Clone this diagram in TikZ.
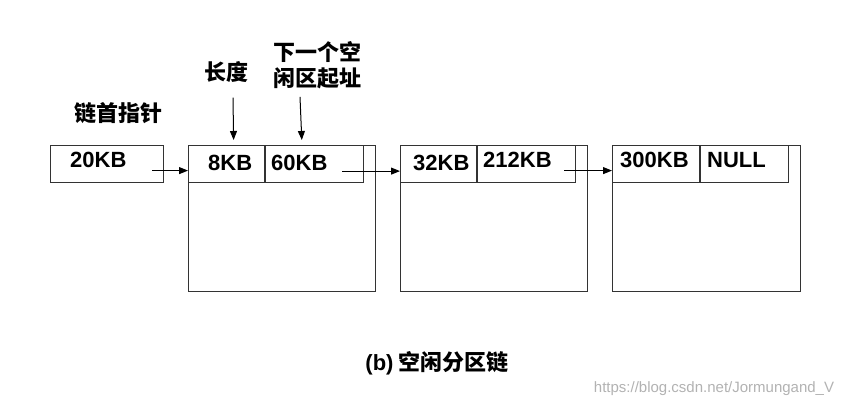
\documentclass[tikz,border=0pt]{standalone}
\usepackage{fontspec}
\setmainfont{Liberation Sans}
\newfontfamily\cjk{Noto Sans CJK SC}
\usetikzlibrary{arrows.meta}

\tikzset{
  cell/.style={draw=black!80,line width=1.2pt,anchor=north west,inner sep=0,minimum height=37},
  val/.style={anchor=base west,inner sep=0,font=\bfseries\fontsize{22}{26}\selectfont},
  lbl/.style={inner sep=0,align=center,font=\cjk\bfseries\fontsize{22}{26}\selectfont},
  link/.style={line width=1pt,-{Triangle[length=9pt,width=7pt]}}
}

\begin{document}
\begin{tikzpicture}[x=1pt,y=-1pt]
  \useasboundingbox (0,0) rectangle (851,403);
  % head pointer
  \node[cell,minimum width=113] (head) at (50,145) {};
  \node[val] (headval) at (70,168) {20KB};
  \node[lbl] (headlbl) at (118,113.5) {链首指针};
  % first free block
  \node[cell,minimum width=187,minimum height=146] (blk1) at (188,145) {};
  \node[cell,minimum width=76] (len1) at (188,145) {};
  \node[cell,minimum width=98] (nxt1) at (len1.north east) {};
  \node[val] (lenval1) at (208,171) {8KB};
  \node[val] (nxtval1) at (271,171) {60KB};
  \node[lbl] (lenlbl) at (226,72) {长度};
  \node[lbl] (nxtlbl) at (317,65) {下一个空\\闲区起址};
  % second free block
  \node[cell,minimum width=187,minimum height=146] (blk2) at (400,145) {};
  \node[cell,minimum width=76] (len2) at (400,145) {};
  \node[cell,minimum width=98] (nxt2) at (len2.north east) {};
  \node[val] (lenval2) at (413,170.5) {32KB};
  \node[val] (nxtval2) at (483,168) {212KB};
  % third free block
  \node[cell,minimum width=188,minimum height=146] (blk3) at (612,145) {};
  \node[cell,minimum width=87] (len3) at (612,145) {};
  \node[cell,minimum width=88] (nxt3) at (len3.north east) {};
  \node[val] (lenval3) at (620,168) {300KB};
  \node[val] (nxtval3) at (707,168) {NULL};
  % links
  \draw[link] ([shift={(-12,6.5)}]head.east) -- ([yshift=-6.5pt]len1.west);
  \draw[link] ([shift={(-22,7)}]nxt1.east) -- ([yshift=-7pt]len2.west);
  \draw[link] ([shift={(-12,6.5)}]nxt2.east) -- ([yshift=-6.5pt]len3.west);
  \draw[link] ([shift={(7,15)}]lenlbl.south) -- ([shift={(7,-5)}]len1.north);
  \draw[link] ([shift={(-17,8)}]nxtlbl.south) -- ([shift={(-13,-5)}]nxt1.north);
  % caption
  \node[lbl] (caption) at (437,363) {{\rmfamily(b)} 空闲分区链};
  \node[inner sep=0,text=black!30,font=\fontsize{15}{18}\selectfont] (mark) at (714,389) {https://blog.csdn.net/Jormungand\_V};
\end{tikzpicture}
\end{document}
